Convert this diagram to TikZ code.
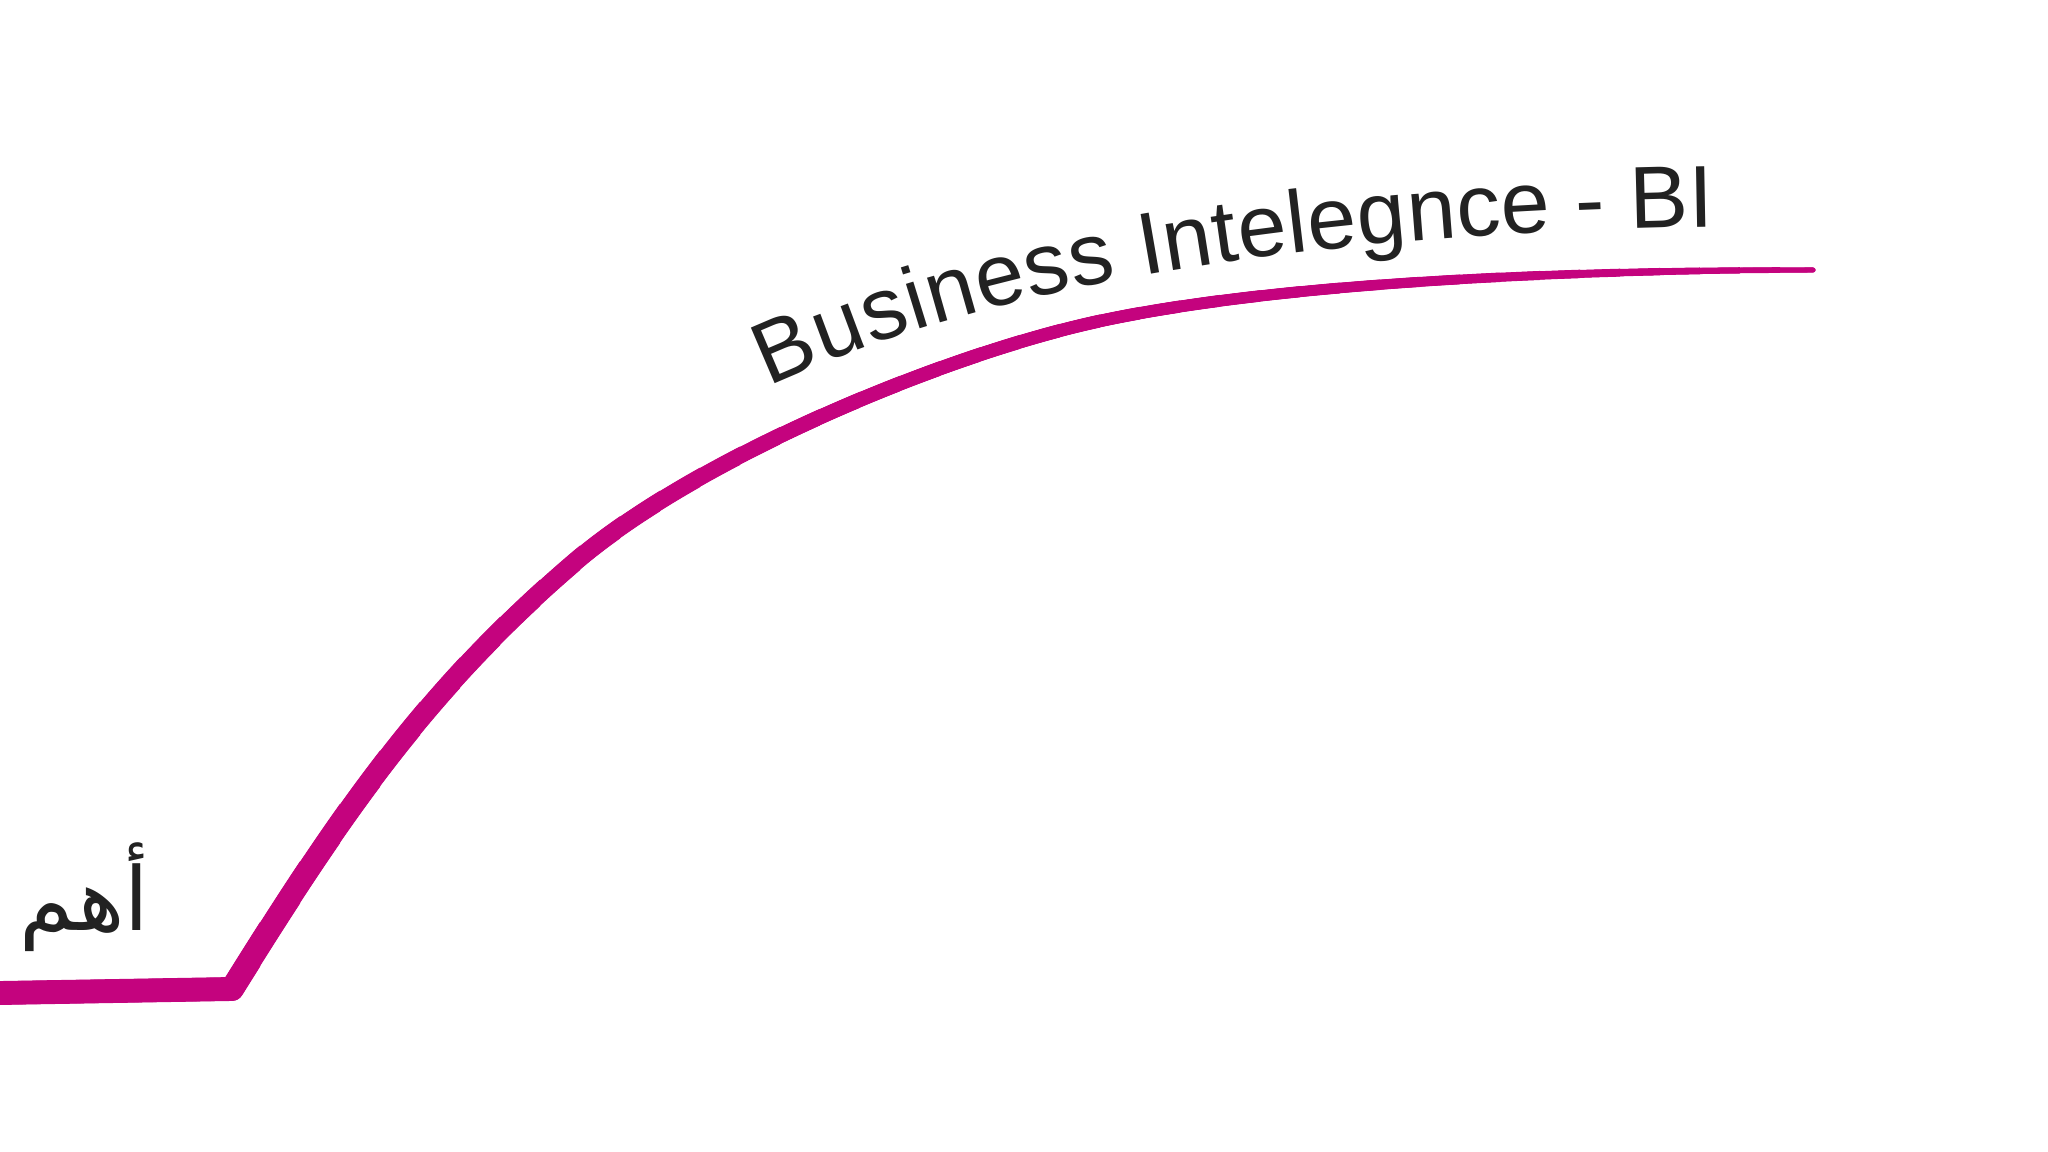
\documentclass[tikz,border=0pt]{standalone}
\usepackage{fontspec}
\newfontfamily\biFont{Liberation Sans}
\newfontfamily\arabicFont[Script=Arabic]{DejaVu Sans}
\TeXXeTstate=1
\usepackage{xcolor}
\definecolor{curveMagenta}{HTML}{C4037E}
\definecolor{labelDark}{HTML}{222222}
\usepackage{tikz}
\usetikzlibrary{positioning,decorations.text}
\newcommand{\titleFontSet}{\biFont\fontsize{25}{30}\selectfont}
\tikzset{%
  growthLine/.style={%
    draw=curveMagenta,
    line join=round,
    line cap=round
  },
  titleText/.style={%
    decorate,
    decoration={%
      text along path,
      text={|\titleFontSet|Business Intelegnce - BI},
      text color=labelDark,
      text align=left,
      raise=0.44cm
    }
  },
  ahamStyle/.style={%
    font=\arabicFont\fontsize{25}{29}\selectfont,
    text=labelDark,
    inner sep=0pt
  }
}

\begin{document}
\begin{tikzpicture}[x=0.01cm,y=-0.01cm]
  \fill[white] (0,0) rectangle (2048,1152);
  \useasboundingbox (0,0) rectangle (2048,1152);

  % growth curve, thinner to the right
  \path[save path=\growthPath] (0,993) -- (232,989)
    .. controls (338,819) and (423,692) .. (575,562)
    .. controls (696.6,458) and (943.7,354.6) .. (1100,321)
    .. controls (1275.9,283.2) and (1563,270) .. (1813,270);
  \foreach \i in {0,...,39}{
    \pgfmathsetmacro{\xcut}{260+40*\i}
    \pgfmathsetmacro{\xm}{\xcut-20}
    \pgfmathsetmacro{\lw}{min(24, \xm<810 ? 24-9*(\xm-232)/578
      : (\xm<1500 ? 15-5.7*(\xm-810)/690 : 9.3-4.3*(\xm-1500)/313))/100}
    \begin{scope}
      \clip (0,0) rectangle (\xcut,1152);
      \draw[growthLine, line width=\lw cm, use path=\growthPath];
    \end{scope}
  }
  \draw[growthLine, line width=0.05cm, use path=\growthPath];

  % title along the curve
  \path[titleText] (786,427) .. controls (1040,310) and (1400,270) .. (1813,270);

  \node[ahamStyle, anchor=base east] (ahamLabel) at (150,930) {\arabicFont\beginR أهم\endR};
\end{tikzpicture}
\end{document}
